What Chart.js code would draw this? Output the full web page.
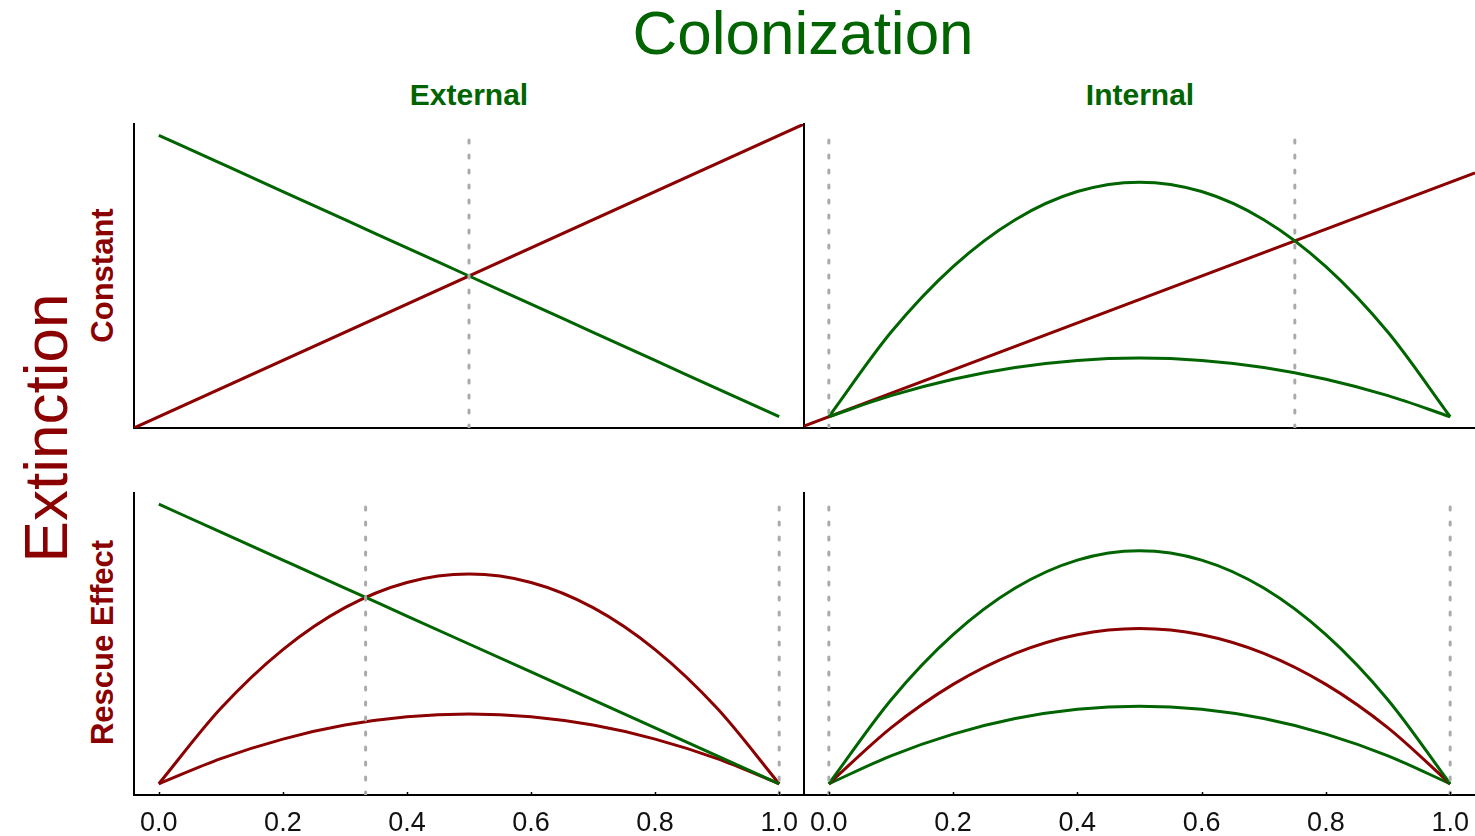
<!DOCTYPE html>
<html>
<head>
<meta charset="utf-8">
<script src="https://cdn.jsdelivr.net/npm/chart.js@4.4.1/dist/chart.umd.min.js"></script>
<style>
  html, body { margin: 0; padding: 0; background: #fff; overflow: hidden; }
  body { width: 1475px; height: 836px; position: relative; font-family: "Liberation Sans", Arial, sans-serif; }
  canvas { position: absolute; }
  .lbl { position: absolute; white-space: nowrap; text-align: center; }
  .green { color: #006400; }
  .red { color: #8b0000; }
</style>
</head>
<body>
<div class="lbl green" style="left:503px; top:2px; width:600px; font-size:62px; line-height:62px;">Colonization</div>
<div class="lbl green" style="left:369px; top:80px; width:200px; font-size:30px; line-height:30px; font-weight:bold;">External</div>
<div class="lbl green" style="left:1040px; top:80px; width:200px; font-size:30px; line-height:30px; font-weight:bold;">Internal</div>
<div class="lbl red" style="left:-104px; top:397px; width:300px; height:62px; font-size:62px; line-height:62px; transform:rotate(-90deg);">Extinction</div>
<div class="lbl red" style="left:2px; top:260px; width:200px; height:31px; font-size:31px; line-height:31px; font-weight:bold; transform:rotate(-90deg);">Constant</div>
<div class="lbl red" style="left:-18px; top:627px; width:240px; height:31px; font-size:31px; line-height:31px; font-weight:bold; transform:rotate(-90deg);">Rescue Effect</div>

<canvas id="tl"></canvas>
<canvas id="tr"></canvas>
<canvas id="bl"></canvas>
<canvas id="br"></canvas>

<script>
// occupancy p
const pGrid = [0, 0.1, 0.2, 0.3, 0.4, 0.5, 0.6, 0.7, 0.8, 0.9, 1.0];
const pLine = [-0.04, 1.04];
const xTicks = [0, 0.2, 0.4, 0.6, 0.8, 1.0];

// top-left: external colonization, constant extinction
const colExternal = [1.0, 0.9, 0.8, 0.7, 0.6, 0.5, 0.4, 0.3, 0.2, 0.1, 0.0];
const extConstant = [-0.04, 1.04];
// top-right: internal colonization (two rates), constant extinction
const colInternalHigh = [0, 0.36, 0.64, 0.84, 0.96, 1.0, 0.96, 0.84, 0.64, 0.36, 0];
const colInternalLow = [0, 0.09, 0.16, 0.21, 0.24, 0.25, 0.24, 0.21, 0.16, 0.09, 0];
// bottom-left: external colonization, rescue effect (two rates)
const rescueHigh = [0, 0.27, 0.48, 0.63, 0.72, 0.75, 0.72, 0.63, 0.48, 0.27, 0];
const rescueLow = [0, 0.09, 0.16, 0.21, 0.24, 0.25, 0.24, 0.21, 0.16, 0.09, 0];
// bottom-right: internal colonization (two rates), rescue effect
const colIntRescueHigh = [0, 0.135, 0.24, 0.315, 0.36, 0.375, 0.36, 0.315, 0.24, 0.135, 0];
const rescueMid = [0, 0.09, 0.16, 0.21, 0.24, 0.25, 0.24, 0.21, 0.16, 0.09, 0];
const colIntRescueLow = [0, 0.045, 0.08, 0.105, 0.12, 0.125, 0.12, 0.105, 0.08, 0.045, 0];

// equilibria (dashed) and top of their lines
const eqTL = [0.5];
const eqTR = [0, 0.75];
const eqBL = [1 / 3, 1];
const eqBR = [0, 1];
const eqTop = { tl: 1.0, tr: 1.2, bl: 1.0, br: 0.45 };

const GREEN = "#006400";
const RED = "#8b0000";
const PAD = 10;

function pts(xs, ys) {
  return xs.map((x, i) => ({ x: x, y: ys[i] }));
}

function curve(xs, ys, color) {
  return {
    data: pts(xs, ys),
    borderColor: color,
    borderWidth: 3,
    pointRadius: 0,
    fill: false,
    cubicInterpolationMode: "monotone",
  };
}

function dashed(ps, y0, y1) {
  return ps.map((p) => ({
    data: [{ x: p, y: y0 }, { x: p, y: y1 }],
    borderColor: "#aaaaaa",
    borderWidth: 3,
    borderDash: [3, 12],
    borderCapStyle: "round",
    pointRadius: 0,
    fill: false,
  }));
}

// small ticks pointing into the plot
const innerTicks = {
  id: "innerTicks",
  afterDraw(chart, args, opts) {
    if (!opts.show) return;
    const sx = chart.scales.x;
    const ctx = chart.ctx;
    const b = chart.chartArea.bottom;
    ctx.save();
    ctx.strokeStyle = "#000";
    ctx.lineWidth = 1.5;
    sx.ticks.forEach((t) => {
      const px = Math.round(sx.getPixelForValue(t.value)) + 0.5;
      ctx.beginPath();
      ctx.moveTo(px, b);
      ctx.lineTo(px, b - 3);
      ctx.stroke();
    });
    ctx.restore();
  },
};

function makePanel(id, box, ymin, ymax, datasets, labels) {
  const canvas = document.getElementById(id);
  const axisH = labels ? 40 : 0;
  const w = box.r - box.l + 2 * PAD;
  const h = box.b - box.t + 2 * PAD + axisH;
  canvas.width = w;
  canvas.height = h;
  canvas.style.left = box.l - PAD + "px";
  canvas.style.top = box.t - PAD + "px";

  return new Chart(canvas.getContext("2d"), {
    type: "line",
    data: { datasets: datasets },
    plugins: [innerTicks],
    options: {
      responsive: false,
      animation: false,
      devicePixelRatio: 1,
      layout: { padding: PAD },
      plugins: {
        legend: { display: false },
        tooltip: { enabled: false },
        innerTicks: { show: labels },
      },
      scales: {
        x: {
          type: "linear",
          min: -0.04,
          max: 1.04,
          grid: { display: false, drawTicks: false },
          border: { display: true, color: "#000", width: 2 },
          afterBuildTicks: (s) => {
            s.ticks = xTicks.map((v) => ({ value: v }));
          },
          afterFit: (s) => {
            s.height = axisH;
          },
          ticks: {
            display: labels,
            autoSkip: false,
            maxRotation: 0,
            padding: 12,
            color: "#111",
            font: { family: "Liberation Sans", size: 27 },
            callback: (v) => Number(v).toFixed(1),
          },
        },
        y: {
          min: ymin,
          max: ymax,
          grid: { display: false, drawTicks: false },
          border: { display: true, color: "#000", width: 2 },
          ticks: { display: false },
          afterFit: (s) => {
            s.width = 0;
          },
        },
      },
    },
  });
}

makePanel("tl", { l: 134, t: 124, r: 804, b: 428 }, -0.04, 1.04,
  dashed(eqTL, -0.04, eqTop.tl).concat([
    curve(pGrid, colExternal, GREEN),
    curve(pLine, extConstant, RED),
  ]), false);

makePanel("tr", { l: 804, t: 124, r: 1475, b: 428 }, -0.048, 1.248,
  dashed(eqTR, -0.048, eqTop.tr).concat([
    curve(pGrid, colInternalHigh, GREEN),
    curve(pGrid, colInternalLow, GREEN),
    curve(pLine, extConstant, RED),
  ]), false);

makePanel("bl", { l: 134, t: 493, r: 804, b: 795 }, -0.04, 1.04,
  dashed(eqBL, -0.04, eqTop.bl).concat([
    curve(pGrid, colExternal, GREEN),
    curve(pGrid, rescueHigh, RED),
    curve(pGrid, rescueLow, RED),
  ]), true);

makePanel("br", { l: 804, t: 493, r: 1475, b: 795 }, -0.018, 0.468,
  dashed(eqBR, -0.018, eqTop.br).concat([
    curve(pGrid, colIntRescueHigh, GREEN),
    curve(pGrid, rescueMid, RED),
    curve(pGrid, colIntRescueLow, GREEN),
  ]), true);
</script>
</body>
</html>
